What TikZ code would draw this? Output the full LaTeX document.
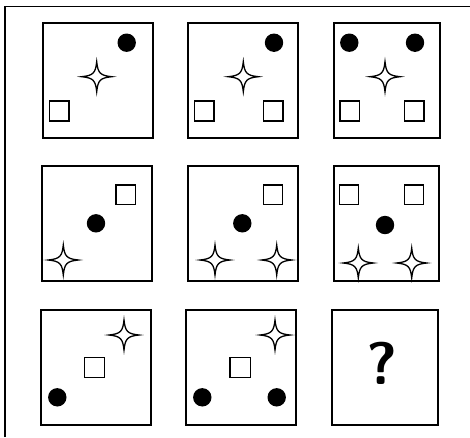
\documentclass[tikz,border=0pt]{standalone}
\usepackage{tikz}

\tikzset{
  sparkle/.pic={
    \draw[line width=1.3pt,fill=white] (0,-15) .. controls (1.2,-3.5) and (3.5,-1.2) .. (15,0)
      .. controls (3.5,1.2) and (1.2,3.5) .. (0,15)
      .. controls (-1.2,3.5) and (-3.5,1.2) .. (-15,0)
      .. controls (-3.5,-1.2) and (-1.2,-3.5) .. cycle;
  }
}

\begin{document}
\begin{tikzpicture}[
  x=1pt,y=-1pt,
  cell/.style={draw,line width=1.8pt,anchor=north west,minimum width=110pt,
               minimum height=115pt,inner sep=0pt},
  box/.style={draw,line width=1.2pt,fill=white},
  dot/.style={fill=black}
]
\useasboundingbox (0,0) rectangle (470,437);
% outer frame (open at right and bottom)
\draw[line width=1.3pt] (5,437) -- (5,6.5) -- (470,6.5);

% the nine cells
\node[cell] (c11) at (41.7,21.7) {};
\node[cell] (c12) at (187.3,21.7) {};
\node[cell,minimum width=106pt] (c13) at (332.7,21.7) {};
\node[cell] (c21) at (41.3,165) {};
\node[cell] (c22) at (187,165) {};
\node[cell,minimum width=105pt] (c23) at (332.7,165) {};
\node[cell] (c31) at (40.3,309.3) {};
\node[cell] (c32) at (185.3,309.3) {};
\node[cell,minimum width=106pt] (c33) at (331.3,309.3) {};

% row 1
\fill[dot] (126.7,42.7) circle (9.2);
\pic at (96.7,76.7) {sparkle};
\draw[box] (49.3,101) rectangle +(19.7,20);

\fill[dot] (274,42.7) circle (9.2);
\pic at (243.3,76.7) {sparkle};
\draw[box] (194.3,101) rectangle +(19.7,20);
\draw[box] (263.3,101) rectangle +(19.7,20);

\fill[dot] (349.3,42.7) circle (9.2);
\fill[dot] (415,42.7) circle (9.2);
\pic at (385,76.7) {sparkle};
\draw[box] (340,101) rectangle +(19.7,20);
\draw[box] (404.3,101) rectangle +(19.7,20);

% row 2
\draw[box] (116,185) rectangle +(19.5,19.5);
\fill[dot] (96,223.3) circle (9.2);
\pic at (63.3,260) {sparkle};

\draw[box] (263.3,185) rectangle +(19.5,19.5);
\fill[dot] (242.3,223.3) circle (9.2);
\pic at (215,260) {sparkle};
\pic at (276.7,260) {sparkle};

\draw[box] (339.3,185) rectangle +(19.5,19.5);
\draw[box] (404.3,185) rectangle +(19.5,19.5);
\fill[dot] (385,225) circle (9.2);
\pic at (358.3,263) {sparkle};
\pic at (411.7,263) {sparkle};

% row 3
\pic at (124,335) {sparkle};
\draw[box] (84.3,357.7) rectangle +(20.5,19.6);
\fill[dot] (57.3,397.3) circle (9.2);

\pic at (275,335) {sparkle};
\draw[box] (230,357.7) rectangle +(20.5,19.6);
\fill[dot] (202.3,397.3) circle (9.2);
\fill[dot] (276.7,397.3) circle (9.2);

\node[font=\fontsize{60}{60}\sffamily\bfseries] (qm) at (381.7,363.3) {?};
\end{tikzpicture}
\end{document}
